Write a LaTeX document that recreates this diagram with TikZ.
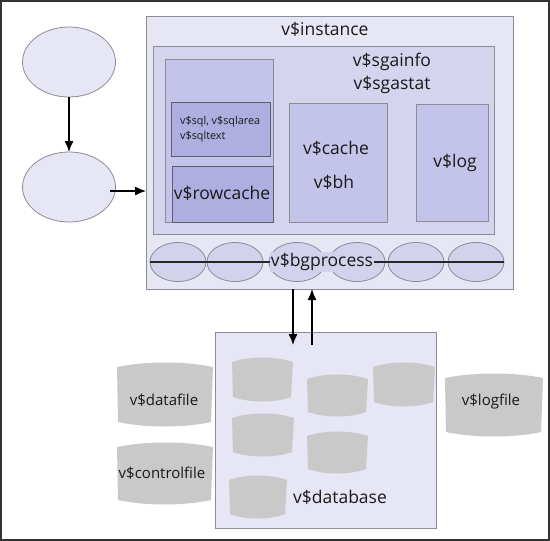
\documentclass[tikz,border=0pt]{standalone}
\usepackage{fontspec}
\setmainfont{Open Sans}
\usetikzlibrary{shapes.geometric,arrows.meta}
\definecolor{instfill}{RGB}{230,230,245}
\definecolor{sgafill}{RGB}{212,212,238}
\definecolor{poolfill}{RGB}{196,196,234}
\definecolor{sqlfill}{RGB}{174,174,224}
\definecolor{ellfill}{RGB}{210,210,236}
\definecolor{canfill}{RGB}{201,201,201}
\definecolor{bordgray}{RGB}{140,140,150}
\definecolor{borddark}{RGB}{95,95,105}
\tikzset{
  box/.style={draw=#1, line width=1pt, inner sep=0pt, outer sep=0pt, anchor=north west},
  oval/.style={ellipse, draw=bordgray, line width=0.8pt, inner sep=0pt, outer sep=0pt},
  lbl/.style={font=\fontsize{17.5}{20}\selectfont, inner sep=0pt, text=black!90},
  clbl/.style={font=\fontsize{15}{18}\selectfont, inner sep=0pt, text=black!90},
  slbl/.style={font=\fontsize{10.8}{15}\selectfont, inner sep=0pt, align=left, text=black!90},
  arr/.style={line width=1.3pt, -{Latex[length=11pt,width=9pt]}},
}
\newcommand{\mycan}[4]{% x1 y1 x2 y2 (image coords)
  \fill[canfill] (#1,#2+5) .. controls ({#1+(#3-#1)*0.3},#2-1) and ({#1+(#3-#1)*0.7},#2-1) .. (#3,#2+5)
    -- (#3-2,#4-5) .. controls ({#1+(#3-#1)*0.7},#4+1) and ({#1+(#3-#1)*0.3},#4+1) .. (#1+1,#4-5) -- cycle;}
\begin{document}
\begin{tikzpicture}[x=1pt,y=-1pt]
\useasboundingbox (0,0) rectangle (550,541);
\fill[white] (0,0) rectangle (550,541);
\draw[line width=2pt, black!80] (1,1) rectangle (549,540);

% left ellipses
\node[oval, fill=instfill, minimum width=93, minimum height=70] (e1) at (69,62) {};
\node[oval, fill=instfill, minimum width=93, minimum height=70] (e2) at (69,187) {};
\draw[arr] (e1) -- (e2);

% instance
\node[box=bordgray, fill=instfill, minimum width=367, minimum height=273] (inst) at (146,16) {};
\node[lbl] (tinst) at (325,29) {v\$instance};
\coordinate (a1) at ([xshift=-6pt,yshift=-4pt]e2.east);
\draw[arr] (a1) -- (a1 -| inst.west);

% SGA
\node[box=bordgray, fill=sgafill, minimum width=341, minimum height=188] (sga) at (153,46) {};
\node[lbl] (tsga1) at (392,62) {v\$sgainfo};
\node[lbl] (tsga2) at (392,85) {v\$sgastat};

% shared pool
\node[box=bordgray, fill=poolfill, minimum width=108, minimum height=163] (pool) at (165,59) {};
\node[box=borddark, fill=sqlfill, minimum width=99, minimum height=54] (sql) at (171,102) {};
\node[slbl, anchor=west] (tsql) at (180,129) {v\$sql, v\$sqlarea\\v\$sqltext};
\node[box=borddark, fill=sqlfill, minimum width=101, minimum height=56] (row) at (172,166) {};
\node[lbl] (trow) at (222,193) {v\$rowcache};

% cache
\node[box=bordgray, fill=poolfill, minimum width=98, minimum height=119] (cache) at (289,103) {};
\node[lbl] (tcache) at (336,148) {v\$cache};
\node[lbl] (tbh) at (334,182) {v\$bh};

% log
\node[box=bordgray, fill=poolfill, minimum width=72, minimum height=117] (log) at (416,104) {};
\node[lbl] (tlog) at (455,163) {v\$log};

% bg processes
\foreach \cx/\nm in {178/p1,235/p2,297/p3,357/p4,416/p5,476/p6}{
  \node[oval, fill=ellfill, minimum width=56, minimum height=39] (\nm) at (\cx,262) {};
}
\draw[line width=1.6pt, black!85] (p1.west) -- (p6.east);
\node[lbl, fill=ellfill, inner sep=1pt] (tbg) at (322,262) {v\$bgprocess};

% database
\node[box=bordgray, fill=instfill, minimum width=221, minimum height=196] (db) at (215,332) {};
\coordinate (d1) at (293,345);
\coordinate (u1) at (312,345);
\draw[arr] (d1 |- inst.south) -- (d1);
\draw[arr] (u1) -- (u1 |- inst.south);

\mycan{232}{357}{293}{402}
\mycan{307}{374}{368}{417}
\mycan{373}{362}{435}{407}
\mycan{232}{413}{294}{457}
\mycan{307}{431}{368}{474}
\mycan{229}{475}{287}{519}
\node[lbl] (tdb) at (340,497) {v\$database};

% external files
\mycan{117}{362}{213}{427}
\node[clbl] (tdf) at (164,400) {v\$datafile};
\mycan{117}{442}{213}{505}
\node[clbl] (tcf) at (162,473) {v\$controlfile};
\mycan{445}{373}{543}{437}
\node[clbl] (tlf) at (491,402) {v\$logfile};
\end{tikzpicture}
\end{document}
